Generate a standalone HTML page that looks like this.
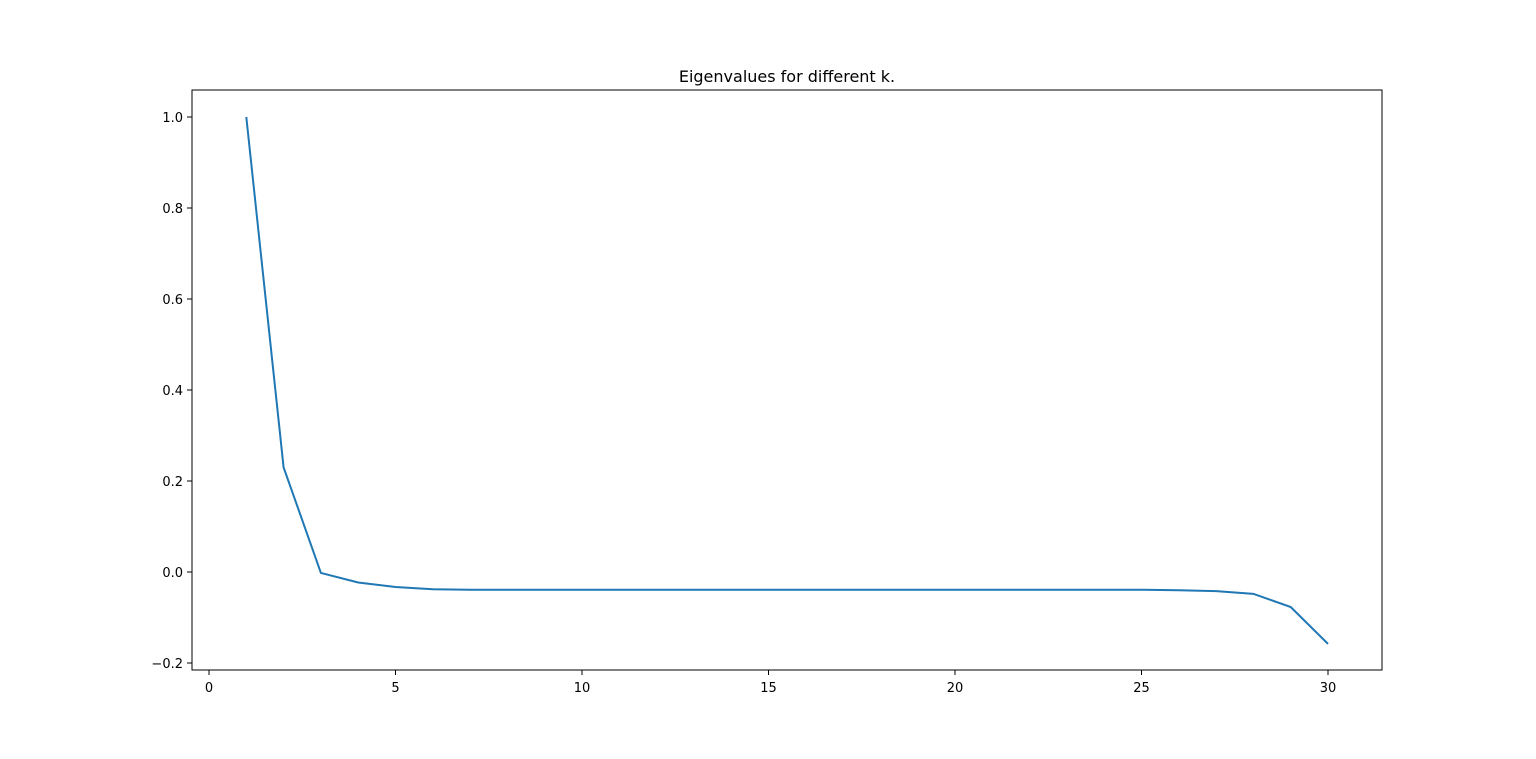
<!DOCTYPE html>
<html><head><meta charset="utf-8"><style>
body{margin:0;background:#fff;}
svg text{font-family:"DejaVu Sans","Liberation Sans",sans-serif;}
</style></head><body>
<svg id="chart" width="1536" height="754" xmlns="http://www.w3.org/2000/svg">
<rect width="1536" height="754" fill="#fff"/>
<text x="787" y="82" font-size="16" text-anchor="middle">Eigenvalues for different k.</text>
<g id="ticks"></g>
<path id="line" fill="none" stroke="#1f77b4" stroke-width="2"/>
<rect x="192" y="90" width="1190" height="580" fill="none" stroke="#000" stroke-width="1"/>
</svg>
<script>
const kValues=[1,2,3,4,5,6,7,8,9,10,11,12,13,14,15,16,17,18,19,20,21,22,23,24,25,26,27,28,29,30];
const eigenvalues=[1.0,0.23,-0.002,-0.023,-0.033,-0.038,-0.039,-0.039,-0.039,-0.039,-0.039,-0.039,-0.039,-0.039,-0.039,-0.039,-0.039,-0.039,-0.039,-0.039,-0.039,-0.039,-0.039,-0.039,-0.039,-0.040,-0.042,-0.048,-0.077,-0.158];
const xTicks=[0,5,10,15,20,25,30];
const yTicks=[-0.2,0.0,0.2,0.4,0.6,0.8,1.0];
const yTickLabels=["\u22120.2","0.0","0.2","0.4","0.6","0.8","1.0"];
function xs(v){return 209+v*(1328-209)/30;}
function ys(v){return 572-v*455;}
const NS="http://www.w3.org/2000/svg";
const g=document.getElementById('ticks');
xTicks.forEach(t=>{
  const l=document.createElementNS(NS,'line');
  l.setAttribute('x1',xs(t));l.setAttribute('x2',xs(t));l.setAttribute('y1',670);l.setAttribute('y2',675);l.setAttribute('stroke','#000');
  
  
  g.appendChild(l);
  const tx=document.createElementNS(NS,'text');
  tx.setAttribute('x',xs(t));tx.setAttribute('y',692);tx.setAttribute('font-size','13');tx.setAttribute('text-anchor','middle');
  tx.textContent=t;
  
  
  g.appendChild(tx);
});
yTicks.forEach((t,i)=>{
  const l=document.createElementNS(NS,'line');
  l.setAttribute('x1',187);l.setAttribute('x2',192);l.setAttribute('y1',ys(t));l.setAttribute('y2',ys(t));l.setAttribute('stroke','#000');
  
  
  g.appendChild(l);
  const tx=document.createElementNS(NS,'text');
  tx.setAttribute('x',183);tx.setAttribute('y',ys(t)+5);tx.setAttribute('font-size','13');tx.setAttribute('text-anchor','end');
  tx.textContent=yTickLabels[i];
  
  
  g.appendChild(tx);
});
document.getElementById('line').setAttribute('d',kValues.map((k,i)=>(i?'L':'M')+xs(k)+','+ys(eigenvalues[i])).join(' '));
</script>
</body></html>
